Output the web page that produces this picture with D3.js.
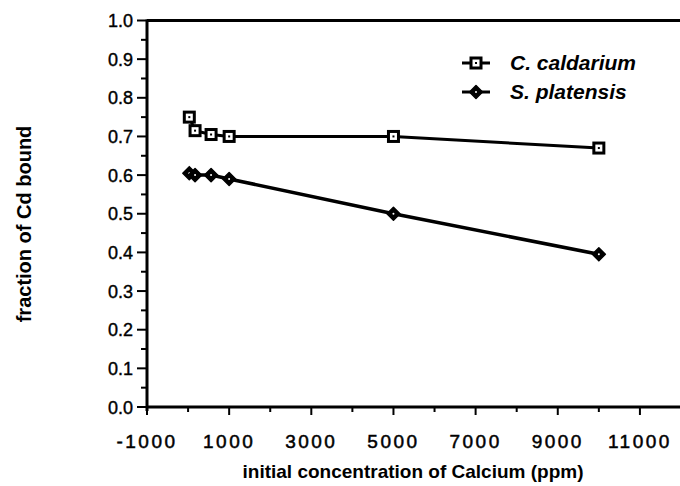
<!DOCTYPE html>
<html>
<head>
  <script src="https://d3js.org/d3.v7.min.js"></script>
  <style>
    body { margin: 0; background: #fff; overflow: hidden; }
    text { font-family: "Liberation Sans", Arial, sans-serif; fill: #000; }
  </style>
</head>
<body>
  <script>
    // values
    const concCald = [30, 170, 560, 1000, 5000, 10000];
    const fracCald = [0.75, 0.715, 0.705, 0.70, 0.70, 0.67];
    const concPlat = [30, 170, 560, 1000, 5000, 10000];
    const fracPlat = [0.605, 0.60, 0.60, 0.59, 0.50, 0.395];
    const xTickVals = [-1000, 1000, 3000, 5000, 7000, 9000, 11000];
    const yTickVals = [0, 0.1, 0.2, 0.3, 0.4, 0.5, 0.6, 0.7, 0.8, 0.9, 1.0];
    const seriesNames = ["C. caldarium", "S. platensis"];

    const width = 680, height = 486;
    const svg = d3.select("body").append("svg")
      .attr("width", width)
      .attr("height", height);

    const x = d3.scaleLinear().domain([-1000, 12000]).range([147, 681]);
    const y = d3.scaleLinear().domain([0, 1]).range([407, 20.5]);

    // frame top
    svg.append("line")
      .attr("x1", x(-1000)).attr("x2", x(12000))
      .attr("y1", y(1)).attr("y2", y(1))
      .attr("stroke", "#000").attr("stroke-width", 3);

    // y axis
    const yMinor = d3.range(0.05, 1, 0.1);
    svg.append("line")
      .attr("x1", x(-1000)).attr("x2", x(-1000))
      .attr("y1", y(0) + 4).attr("y2", y(1) - 1)
      .attr("stroke", "#000").attr("stroke-width", 3);
    svg.append("g").selectAll("line")
      .data(yTickVals).join("line")
      .attr("x1", x(-1000) - 10).attr("x2", x(-1000))
      .attr("y1", d => y(d)).attr("y2", d => y(d))
      .attr("stroke", "#000").attr("stroke-width", 2);
    svg.append("g").selectAll("line")
      .data(yMinor).join("line")
      .attr("x1", x(-1000) - 6).attr("x2", x(-1000))
      .attr("y1", d => y(d)).attr("y2", d => y(d))
      .attr("stroke", "#000").attr("stroke-width", 2);
    svg.append("g").selectAll("text")
      .data(yTickVals).join("text")
      .attr("x", 133).attr("y", d => y(d) + 6.5)
      .attr("text-anchor", "end")
      .attr("font-size", 18)
      .attr("stroke", "#000").attr("stroke-width", 0.4)
      .text(d => d.toFixed(1));

    // x axis
    const xMinor = d3.range(0, 12000, 2000);
    svg.append("line")
      .attr("x1", x(-1000)).attr("x2", x(12000))
      .attr("y1", y(0)).attr("y2", y(0))
      .attr("stroke", "#000").attr("stroke-width", 3);
    svg.append("g").selectAll("line")
      .data(xTickVals).join("line")
      .attr("x1", d => x(d)).attr("x2", d => x(d))
      .attr("y1", y(0)).attr("y2", y(0) + 8)
      .attr("stroke", "#000").attr("stroke-width", 2);
    svg.append("g").selectAll("line")
      .data(xMinor).join("line")
      .attr("x1", d => x(d)).attr("x2", d => x(d))
      .attr("y1", y(0)).attr("y2", y(0) + 5)
      .attr("stroke", "#000").attr("stroke-width", 2);
    svg.append("g").selectAll("text")
      .data(xTickVals).join("text")
      .attr("x", d => x(d)).attr("y", 448)
      .attr("text-anchor", "middle")
      .attr("font-size", 19)
      .attr("letter-spacing", 2.5)
      .attr("stroke", "#000").attr("stroke-width", 0.5)
      .text(d => d);

    // axis titles
    svg.append("text")
      .attr("x", 413).attr("y", 478)
      .attr("text-anchor", "middle")
      .attr("font-size", 19).attr("font-weight", "bold")
      .text("initial concentration of Calcium (ppm)");
    svg.append("text")
      .attr("transform", "translate(31,224) rotate(-90)")
      .attr("text-anchor", "middle")
      .attr("font-size", 20).attr("font-weight", "bold")
      .text("fraction of Cd bound");

    const cald = concCald.map((c, i) => ({ x: c, y: fracCald[i] }));
    const plat = concPlat.map((c, i) => ({ x: c, y: fracPlat[i] }));
    const line = d3.line().x(d => x(d.x)).y(d => y(d.y));

    svg.append("path").datum(cald)
      .attr("d", line).attr("fill", "none")
      .attr("stroke", "#000").attr("stroke-width", 3);
    svg.append("path").datum(plat)
      .attr("d", line).attr("fill", "none")
      .attr("stroke", "#000").attr("stroke-width", 3.5);

    function square(g) {
      g.append("rect")
        .attr("x", -5).attr("y", -5).attr("width", 10).attr("height", 10)
        .attr("fill", "#fff").attr("stroke", "#000").attr("stroke-width", 3);
      g.append("rect")
        .attr("x", -1).attr("y", -1).attr("width", 2).attr("height", 2)
        .attr("fill", "#000");
    }
    function diamond(g) {
      g.append("path")
        .attr("d", "M0,-6.5L6.5,0L0,6.5L-6.5,0Z")
        .attr("fill", "#000").attr("stroke", "#000").attr("stroke-width", 1.5)
        .attr("stroke-linejoin", "round");
      g.append("circle").attr("r", 1).attr("fill", "#fff");
    }

    svg.append("g").selectAll("g")
      .data(cald).join("g")
      .attr("transform", d => `translate(${x(d.x)},${y(d.y)})`)
      .call(square);
    svg.append("g").selectAll("g")
      .data(plat).join("g")
      .attr("transform", d => `translate(${x(d.x)},${y(d.y)})`)
      .call(diamond);

    // legend
    const legend = svg.append("g");
    const rows = [63, 92];
    rows.forEach((ry, i) => {
      legend.append("line")
        .attr("x1", 462).attr("x2", 490).attr("y1", ry).attr("y2", ry)
        .attr("stroke", "#000").attr("stroke-width", 3);
      legend.append("g").attr("transform", `translate(476,${ry})`)
        .call(i === 0 ? square : diamond);
      legend.append("text")
        .attr("x", 510).attr("y", ry + 7)
        .attr("font-size", 21).attr("font-weight", "bold").attr("font-style", "italic")
        .text(seriesNames[i]);
    });
  </script>
</body>
</html>
